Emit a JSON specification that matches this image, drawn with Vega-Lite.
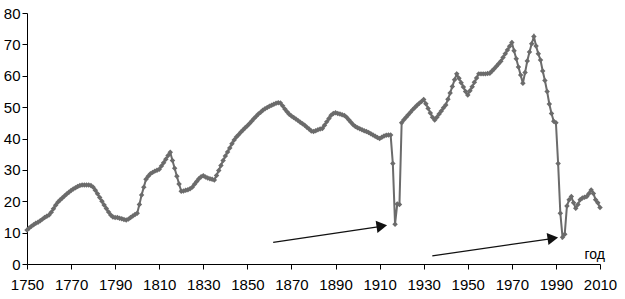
{
  "$schema": "https://vega.github.io/schema/vega-lite/v6.json",
  "width": 573,
  "height": 251,
  "autosize": {"type": "none"},
  "padding": {"left": 27, "top": 13, "right": 25, "bottom": 35},
  "background": "white",
  "config": {
    "view": {"stroke": null},
    "font": "Liberation Sans",
    "axis": {
      "domainColor": "#000000",
      "tickColor": "#000000",
      "labelColor": "#000000",
      "labelFont": "Liberation Sans",
      "labelFontSize": 15,
      "labelOverlap": false,
      "tickSize": 5,
      "grid": false,
      "title": null
    }
  },
  "datasets": {
    "series": [
      {"x":1750,"y":10.8},{"x":1751,"y":11.5},{"x":1752,"y":12},{"x":1753,"y":12.5},{"x":1754,"y":13},{"x":1755,"y":13.3},{"x":1756,"y":13.8},{"x":1757,"y":14.3},{"x":1758,"y":14.8},{"x":1759,"y":15.2},
      {"x":1760,"y":15.6},{"x":1761,"y":16.5},{"x":1762,"y":17.6},{"x":1763,"y":18.7},{"x":1764,"y":19.7},{"x":1765,"y":20.4},{"x":1766,"y":21},{"x":1767,"y":21.7},{"x":1768,"y":22.3},{"x":1769,"y":22.9},
      {"x":1770,"y":23.4},{"x":1771,"y":23.9},{"x":1772,"y":24.3},{"x":1773,"y":24.7},{"x":1774,"y":25},{"x":1775,"y":25.2},{"x":1776,"y":25.2},{"x":1777,"y":25.2},{"x":1778,"y":25.2},{"x":1779,"y":25},
      {"x":1780,"y":24.5},{"x":1781,"y":23.5},{"x":1782,"y":22.4},{"x":1783,"y":21.2},{"x":1784,"y":20},{"x":1785,"y":18.8},{"x":1786,"y":17.7},{"x":1787,"y":16.6},{"x":1788,"y":15.6},{"x":1789,"y":15},
      {"x":1790,"y":14.8},{"x":1791,"y":14.8},{"x":1792,"y":14.6},{"x":1793,"y":14.4},{"x":1794,"y":14.2},{"x":1795,"y":14},{"x":1796,"y":14.3},{"x":1797,"y":14.8},{"x":1798,"y":15.3},{"x":1799,"y":15.8},
      {"x":1800,"y":16.2},{"x":1801,"y":19},{"x":1802,"y":22},{"x":1803,"y":24.5},{"x":1804,"y":27},{"x":1805,"y":28},{"x":1806,"y":28.8},{"x":1807,"y":29.2},{"x":1808,"y":29.6},{"x":1809,"y":29.9},
      {"x":1810,"y":30.2},{"x":1811,"y":31.2},{"x":1812,"y":32.3},{"x":1813,"y":33.4},{"x":1814,"y":34.6},{"x":1815,"y":35.6},{"x":1816,"y":33},{"x":1817,"y":30.5},{"x":1818,"y":28},{"x":1819,"y":25.5},
      {"x":1820,"y":23.2},{"x":1821,"y":23.3},{"x":1822,"y":23.5},{"x":1823,"y":23.7},{"x":1824,"y":24},{"x":1825,"y":24.5},{"x":1826,"y":25.4},{"x":1827,"y":26.3},{"x":1828,"y":27.2},{"x":1829,"y":27.8},
      {"x":1830,"y":28.1},{"x":1831,"y":27.7},{"x":1832,"y":27.4},{"x":1833,"y":27.2},{"x":1834,"y":27},{"x":1835,"y":26.8},{"x":1836,"y":28.2},{"x":1837,"y":29.8},{"x":1838,"y":31.4},{"x":1839,"y":33},
      {"x":1840,"y":34.4},{"x":1841,"y":35.7},{"x":1842,"y":37},{"x":1843,"y":38.3},{"x":1844,"y":39.5},{"x":1845,"y":40.5},{"x":1846,"y":41.2},{"x":1847,"y":42},{"x":1848,"y":42.7},{"x":1849,"y":43.4},
      {"x":1850,"y":44.1},{"x":1851,"y":44.8},{"x":1852,"y":45.6},{"x":1853,"y":46.4},{"x":1854,"y":47.1},{"x":1855,"y":47.8},{"x":1856,"y":48.4},{"x":1857,"y":49},{"x":1858,"y":49.5},{"x":1859,"y":49.9},
      {"x":1860,"y":50.3},{"x":1861,"y":50.6},{"x":1862,"y":50.9},{"x":1863,"y":51.2},{"x":1864,"y":51.4},{"x":1865,"y":51.3},{"x":1866,"y":50.4},{"x":1867,"y":49.4},{"x":1868,"y":48.5},{"x":1869,"y":47.7},
      {"x":1870,"y":47.2},{"x":1871,"y":46.7},{"x":1872,"y":46.2},{"x":1873,"y":45.7},{"x":1874,"y":45.2},{"x":1875,"y":44.7},{"x":1876,"y":44.2},{"x":1877,"y":43.6},{"x":1878,"y":43},{"x":1879,"y":42.4},
      {"x":1880,"y":42.2},{"x":1881,"y":42.5},{"x":1882,"y":42.8},{"x":1883,"y":43},{"x":1884,"y":43.2},{"x":1885,"y":44.2},{"x":1886,"y":45.3},{"x":1887,"y":46.4},{"x":1888,"y":47.4},{"x":1889,"y":48},
      {"x":1890,"y":48.2},{"x":1891,"y":48},{"x":1892,"y":47.8},{"x":1893,"y":47.6},{"x":1894,"y":47.3},{"x":1895,"y":46.8},{"x":1896,"y":46},{"x":1897,"y":45.2},{"x":1898,"y":44.4},{"x":1899,"y":43.8},
      {"x":1900,"y":43.4},{"x":1901,"y":43.1},{"x":1902,"y":42.8},{"x":1903,"y":42.5},{"x":1904,"y":42.2},{"x":1905,"y":41.9},{"x":1906,"y":41.5},{"x":1907,"y":41.1},{"x":1908,"y":40.7},{"x":1909,"y":40.3},
      {"x":1910,"y":40},{"x":1911,"y":40.4},{"x":1912,"y":40.8},{"x":1913,"y":41},{"x":1914,"y":41.1},{"x":1915,"y":41.1},{"x":1916,"y":32},{"x":1917,"y":12.7},{"x":1918,"y":19.1},{"x":1919,"y":19},
      {"x":1920,"y":45},{"x":1921,"y":46},{"x":1922,"y":46.8},{"x":1923,"y":47.6},{"x":1924,"y":48.4},{"x":1925,"y":49.2},{"x":1926,"y":49.9},{"x":1927,"y":50.6},{"x":1928,"y":51.2},{"x":1929,"y":51.8},
      {"x":1930,"y":52.4},{"x":1931,"y":51.1},{"x":1932,"y":49.6},{"x":1933,"y":48.1},{"x":1934,"y":46.8},{"x":1935,"y":45.9},{"x":1936,"y":46.8},{"x":1937,"y":47.8},{"x":1938,"y":48.8},{"x":1939,"y":49.8},
      {"x":1940,"y":50.7},{"x":1941,"y":52.5},{"x":1942,"y":54.5},{"x":1943,"y":56.6},{"x":1944,"y":58.7},{"x":1945,"y":60.6},{"x":1946,"y":59.2},{"x":1947,"y":57.8},{"x":1948,"y":56.4},{"x":1949,"y":55},
      {"x":1950,"y":53.9},{"x":1951,"y":55.2},{"x":1952,"y":56.5},{"x":1953,"y":57.9},{"x":1954,"y":59.3},{"x":1955,"y":60.6},{"x":1956,"y":60.6},{"x":1957,"y":60.6},{"x":1958,"y":60.6},{"x":1959,"y":60.7},
      {"x":1960,"y":60.8},{"x":1961,"y":61.5},{"x":1962,"y":62.2},{"x":1963,"y":63},{"x":1964,"y":63.8},{"x":1965,"y":64.6},{"x":1966,"y":65.8},{"x":1967,"y":67},{"x":1968,"y":68.2},{"x":1969,"y":69.4},
      {"x":1970,"y":70.6},{"x":1971,"y":68},{"x":1972,"y":65.4},{"x":1973,"y":62.8},{"x":1974,"y":60.2},{"x":1975,"y":57.6},{"x":1976,"y":61},{"x":1977,"y":64.7},{"x":1978,"y":67.6},{"x":1979,"y":70.2},
      {"x":1980,"y":72.5},{"x":1981,"y":69.5},{"x":1982,"y":67},{"x":1983,"y":65},{"x":1984,"y":61.5},{"x":1985,"y":58.5},{"x":1986,"y":55},{"x":1987,"y":51},{"x":1988,"y":48},{"x":1989,"y":45.5},
      {"x":1990,"y":45},{"x":1991,"y":32},{"x":1992,"y":16.2},{"x":1993,"y":8.5},{"x":1994,"y":9.5},{"x":1995,"y":18.5},{"x":1996,"y":20.5},{"x":1997,"y":21.5},{"x":1998,"y":19.5},{"x":1999,"y":17.8},
      {"x":2000,"y":19},{"x":2001,"y":20.5},{"x":2002,"y":21},{"x":2003,"y":21.3},{"x":2004,"y":21.5},{"x":2005,"y":22.5},{"x":2006,"y":23.6},{"x":2007,"y":22.5},{"x":2008,"y":20.5},{"x":2009,"y":19.5},
      {"x":2010,"y":18}
    ],
    "arrows": [
      {"x": 1861.7, "y": 6.9, "x2": 1911.5, "y2": 12.1},
      {"x": 1933.9, "y": 2.6, "x2": 1989.0, "y2": 8.2}
    ],
    "heads": [
      {"x": 1911.0, "y": 12.1},
      {"x": 1988.6, "y": 8.2}
    ],
    "labels": [
      {"x": 2007.6, "y": 2.8, "text": "год"}
    ]
  },
  "encoding": {
    "x": {"field": "x", "type": "quantitative",
          "scale": {"domain": [1750, 2010], "nice": false, "zero": false},
          "axis": {"values": [1750,1770,1790,1810,1830,1850,1870,1890,1910,1930,1950,1970,1990,2010],
                   "format": "d", "labelPadding": 8, "labelFlush": false}},
    "y": {"field": "y", "type": "quantitative",
          "scale": {"domain": [0, 80], "nice": false},
          "axis": {"values": [0,10,20,30,40,50,60,70,80], "labelPadding": 2}}
  },
  "layer": [
    {
      "data": {"name": "series"},
      "mark": {"type": "line", "color": "#6b6b6b", "strokeWidth": 2,
               "point": {"shape": "diamond", "size": 30, "filled": true, "color": "#6b6b6b", "opacity": 1}}
    },
    {
      "data": {"name": "arrows"},
      "mark": {"type": "rule", "color": "#111111", "strokeWidth": 1.3},
      "encoding": {
        "x2": {"field": "x2"},
        "y2": {"field": "y2"}
      }
    },
    {
      "data": {"name": "heads"},
      "mark": {"type": "point", "shape": "triangle-right", "filled": true, "color": "#111111", "size": 150, "angle": 351.5, "opacity": 1}
    },
    {
      "data": {"name": "labels"},
      "mark": {"type": "text", "font": "Liberation Sans", "fontSize": 14, "color": "#000000", "align": "center", "baseline": "middle"},
      "encoding": {
        "text": {"field": "text"}
      }
    }
  ]
}
